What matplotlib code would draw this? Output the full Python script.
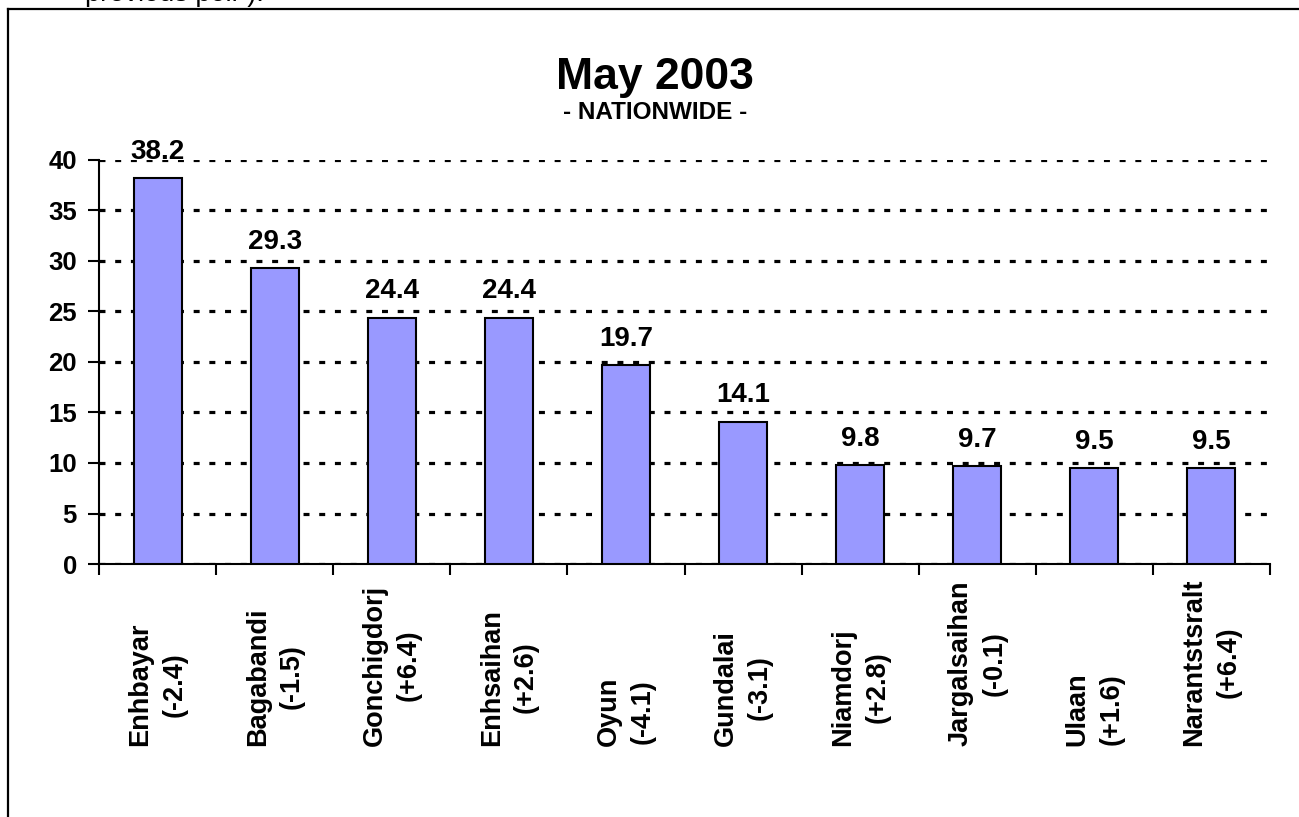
import matplotlib
matplotlib.use("Agg")
import matplotlib.pyplot as plt
from matplotlib.lines import Line2D
from matplotlib.transforms import blended_transform_factory
import numpy as np

plt.rcParams["font.family"] = ["Liberation Sans", "DejaVu Sans"]
plt.rcParams["lines.scale_dashes"] = False

# data
names = ["Enhbayar", "Bagabandi", "Gonchigdorj", "Enhsaihan", "Oyun",
         "Gundalai", "Niamdorj", "Jargalsaihan", "Ulaan", "Narantstsralt"]
changes = ["-2.4", "-1.5", "+6.4", "+2.6", "-4.1",
           "-3.1", "+2.8", "-0.1", "+1.6", "+6.4"]
scores = [38.2, 29.3, 24.4, 24.4, 19.7, 14.1, 9.8, 9.7, 9.5, 9.5]
yticks = [0, 5, 10, 15, 20, 25, 30, 35, 40]

W, H = 1299, 817
fig = plt.figure(figsize=(W / 100, H / 100), dpi=100)

# axes box in pixels: left 99, right 1270, top 160, bottom 564
ax = fig.add_axes([99 / W, (H - 564) / H, (1270 - 99) / W, (564 - 160) / H])

x = np.arange(len(scores))
ax.bar(x, scores, width=0.41, color="#9999FF", edgecolor="black",
       linewidth=1.5, zorder=3)

ax.set_xlim(-0.5, len(scores) - 0.5)
ax.set_ylim(0, 40)
ax.set_yticks(yticks)
ax.set_yticklabels([str(v) for v in yticks], fontsize=18.5, fontweight="bold")
ax.grid(axis="y", color="black", linewidth=2.3, linestyle=(0, (4.3, 7.0)), zorder=1)

ax.set_xticks(np.arange(len(scores) + 1) - 0.5)
ax.set_xticklabels([])
ax.tick_params(axis="both", direction="out", length=8, width=1.5, colors="black")
ax.tick_params(axis="y", pad=8)

for s in ["top", "right"]:
    ax.spines[s].set_visible(False)
for s in ["left", "bottom"]:
    ax.spines[s].set_linewidth(1.5)

for xi, v in zip(x, scores):
    ax.annotate(f"{v:.1f}", (xi, v), xytext=(0, 14), textcoords="offset points",
                ha="center", va="baseline", fontsize=20, fontweight="bold")

trans = blended_transform_factory(ax.transData, fig.transFigure)
for xi, n, c in zip(x, names, changes):
    ax.text(xi, 1 - 746 / H, f"{n}\n({c})", transform=trans, rotation=90,
            ha="center", va="bottom", multialignment="center",
            fontsize=19.5, fontweight="bold", linespacing=1.4)

fig.text(655 / W, 1 - 89 / H, "May 2003", ha="center", va="baseline",
         fontsize=32, fontweight="bold")
fig.text(655 / W, 1 - 119 / H, "- NATIONWIDE -", ha="center", va="baseline",
         fontsize=17.5, fontweight="bold")

# partially cut text above the chart frame
fig.text(85 / W, 1 - 1 / H, 'previous poll").', ha="left", va="baseline",
         fontsize=19.5)

# chart frame (right and bottom edges fall outside the picture)
fig.add_artist(Line2D([8 / W, 8 / W], [0, 1 - 9 / H], color="black",
                      linewidth=1.6, transform=fig.transFigure))
fig.add_artist(Line2D([8 / W, 1], [1 - 9 / H, 1 - 9 / H], color="black",
                      linewidth=1.6, transform=fig.transFigure))

fig.savefig("out.png", dpi=100)
